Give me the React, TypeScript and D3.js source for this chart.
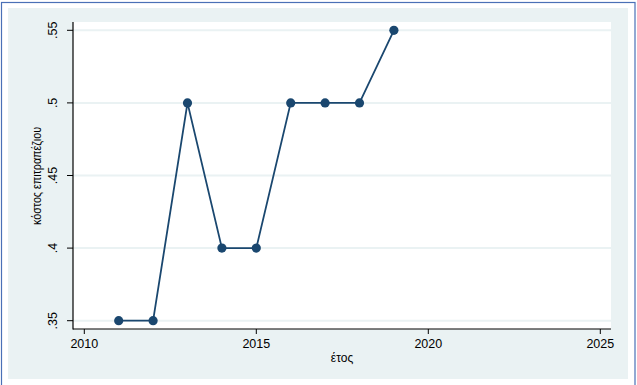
import React from "react";
import * as d3 from "d3";

const years = [2011, 2012, 2013, 2014, 2015, 2016, 2017, 2018, 2019];
const costs = [0.35, 0.35, 0.5, 0.4, 0.4, 0.5, 0.5, 0.5, 0.55];
const xTicks = [2010, 2015, 2020, 2025];
const yTicks = [0.35, 0.4, 0.45, 0.5, 0.55];
const yTickLabels = [".35", ".4", ".45", ".5", ".55"];
const xTitle = "έτος";
const yTitle = "κόστος επιτραπέζιου";

export default function App() {
  const W = 637;
  const H = 385;
  const plotL = 73, plotR = 611, plotT = 22, plotB = 329;
  const x = d3.scaleLinear().domain([2010, 2025]).range([84.3, 600.3]);
  const y = d3.scaleLinear().domain([0.35, 0.55]).range([320.7, 30.3]);
  const line = d3.line<number>().x((_, i) => x(years[i])).y((d) => y(d));
  const navy = "#1a476f";
  const font = "Arial, 'Liberation Sans', sans-serif";

  return (
    <svg width={W} height={H} style={{ position: "fixed", left: 0, top: 0 }} fontFamily={font}>
      <rect x={0} y={0} width={W} height={H} fill="#ffffff" />
      <rect x={1.5} y={2.5} width={633.5} height={390} fill="none" stroke="#4a70b6" strokeWidth={1.2} />
      <rect x={8} y={8} width={620} height={371} fill="#eaf2f3" />
      <rect x={plotL} y={plotT} width={plotR - plotL} height={plotB - plotT} fill="#ffffff" />
      {yTicks.map((t) => (
        <line key={"g" + t} x1={plotL} x2={plotR} y1={y(t)} y2={y(t)} stroke="#eaf2f3" strokeWidth={2} />
      ))}
      <path d={line(costs) || ""} fill="none" stroke={navy} strokeWidth={1.8} />
      {costs.map((c, i) => (
        <circle key={"m" + i} cx={x(years[i])} cy={y(c)} r={4.6} fill={navy} />
      ))}
      <line x1={plotL} x2={plotL} y1={plotT} y2={plotB + 0.5} stroke="#000" strokeWidth={1.2} />
      <line x1={plotL} x2={plotR} y1={plotB} y2={plotB} stroke="#000" strokeWidth={1.2} />
      {yTicks.map((t, i) => (
        <g key={"yt" + t}>
          <line x1={plotL - 6} x2={plotL} y1={y(t)} y2={y(t)} stroke="#000" strokeWidth={1} />
          <text
            transform={`translate(57,${y(t)}) rotate(-90)`}
            textAnchor="middle"
            fontSize={12.5}
            fill="#000"
          >
            {yTickLabels[i]}
          </text>
        </g>
      ))}
      {xTicks.map((t) => (
        <g key={"xt" + t}>
          <line x1={x(t)} x2={x(t)} y1={plotB} y2={plotB + 5} stroke="#000" strokeWidth={1} />
          <text x={x(t)} y={348} textAnchor="middle" fontSize={12.5} fill="#000">
            {t}
          </text>
        </g>
      ))}
      <text x={(plotL + plotR) / 2} y={362} textAnchor="middle" fontSize={12} fill="#000">
        {xTitle}
      </text>
      <text
        transform={`translate(41,176) rotate(-90)`}
        textAnchor="middle"
        fontSize={12}
        fill="#000"
        textLength={98}
        lengthAdjust="spacingAndGlyphs"
      >
        {yTitle}
      </text>
    </svg>
  );
}
